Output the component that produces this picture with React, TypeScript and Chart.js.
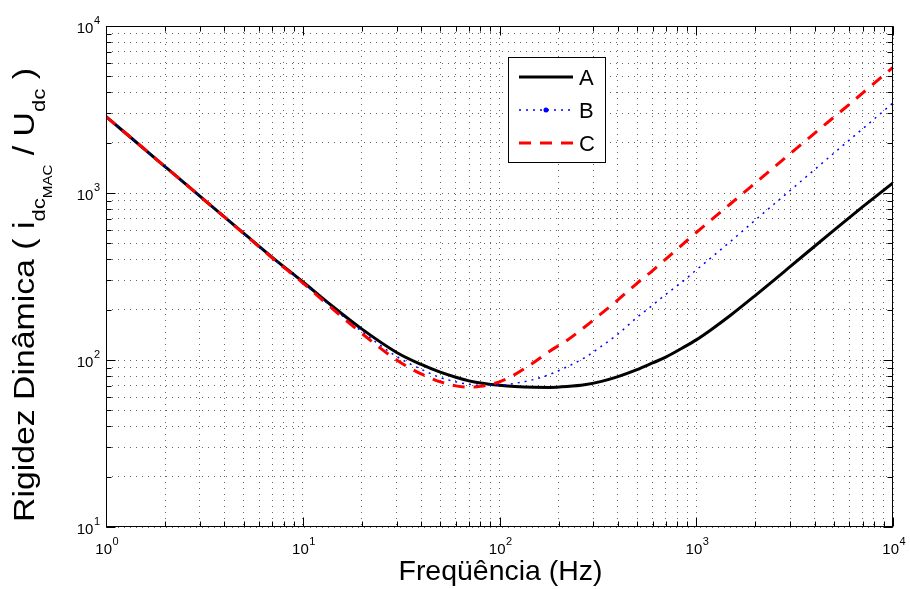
import React, { useEffect, useRef } from "react";
import { Chart, registerables } from "chart.js";

Chart.register(...registerables);

// ---- data ----
const frequencies = [1, 2, 3, 5, 7, 10, 14, 20, 30, 40, 50, 60, 70, 80, 100, 120, 150, 180, 220, 270, 330, 400, 500, 600, 700, 850, 1000, 1200, 1500, 2000, 3000, 5000, 7000, 10000];
const rigidezA = [2870, 1435, 957, 575, 412, 294, 212, 153, 111, 94, 84.5, 78.8, 75, 72.8, 70.5, 69.3, 68.6, 68.5, 69.3, 71, 74.5, 79.5, 87.5, 96, 104, 118, 132, 153, 186, 244, 362, 598, 825, 1150];
const rigidezB = [2870, 1435, 957, 574, 410, 291, 208, 148, 105, 88, 78.5, 74, 71.5, 70.5, 70.6, 72.5, 76.5, 82, 91, 103, 121, 143, 180, 213, 247, 294, 346, 413, 515, 690, 1035, 1730, 2420, 3460];
const rigidezC = [2870, 1435, 957, 573, 408, 290, 205, 144, 100, 82.5, 74, 70, 68.7, 69.5, 74, 82, 97, 113, 131, 157, 190, 229, 288, 343, 402, 490, 580, 695, 865, 1150, 1720, 2840, 3960, 5660];
const seriesLabels = ["A", "B", "C"];
const xRange = [1, 10000];
const yRange = [10, 10000];
const xTitle = "Freqüência (Hz)";
const yTitleParts = ["Rigidez Dinâmica ( i", "dc", "MAC", " / U", "dc", " )"];

const FONT = '"Liberation Sans", Arial, Helvetica, sans-serif';

const isMajor = (v: number) => Math.abs(Math.log10(v) - Math.round(Math.log10(v))) < 1e-9;

function logTicks(min: number, max: number) {
  const t: { value: number }[] = [];
  const e0 = Math.round(Math.log10(min));
  const e1 = Math.round(Math.log10(max));
  for (let e = e0; e < e1; e++) for (let m = 1; m <= 9; m++) t.push({ value: m * Math.pow(10, e) });
  t.push({ value: Math.pow(10, e1) });
  return t;
}

function drawPow(ctx: CanvasRenderingContext2D, exp: string, x: number, y: number, align: "center" | "right", expRaise: number) {
  ctx.font = `15px ${FONT}`;
  const wb = ctx.measureText("10").width;
  ctx.font = `11px ${FONT}`;
  const we = ctx.measureText(exp).width;
  const total = wb + we + 0.5;
  const sx = align === "center" ? x - total / 2 : x - total;
  ctx.textAlign = "left";
  ctx.textBaseline = "alphabetic";
  ctx.font = `15px ${FONT}`;
  ctx.fillText("10", sx, y);
  ctx.font = `11px ${FONT}`;
  ctx.fillText(exp, sx + wb + 0.5, y - expRaise);
}

const matlabAxes = {
  id: "matlabAxes",
  afterDraw(chart: any) {
    const { ctx, chartArea: a, scales } = chart;
    const xs = scales.x;
    const ys = scales.y;
    ctx.save();
    ctx.strokeStyle = "#000";
    ctx.fillStyle = "#000";
    ctx.lineWidth = 1;
    ctx.setLineDash([]);
    const L = Math.round(a.left) + 0.5;
    const R = Math.round(a.right) - 0.5;
    const T = Math.round(a.top) + 0.5;
    const B = Math.round(a.bottom) - 0.5;
    ctx.strokeRect(L, T, R - L, B - T);
    ctx.beginPath();
    xs.ticks.forEach((t: any) => {
      const px = Math.round(xs.getPixelForValue(t.value)) + 0.5;
      const len = isMajor(t.value) ? 9 : 5;
      ctx.moveTo(px, B);
      ctx.lineTo(px, B - len);
      ctx.moveTo(px, T);
      ctx.lineTo(px, T + len);
    });
    ys.ticks.forEach((t: any) => {
      const py = Math.round(ys.getPixelForValue(t.value)) + 0.5;
      const len = isMajor(t.value) ? 9 : 5;
      ctx.moveTo(L, py);
      ctx.lineTo(L + len, py);
      ctx.moveTo(R, py);
      ctx.lineTo(R - len, py);
    });
    ctx.stroke();

    // tick labels
    xs.ticks.forEach((t: any) => {
      if (!isMajor(t.value)) return;
      const px = xs.getPixelForValue(t.value);
      drawPow(ctx, String(Math.round(Math.log10(t.value))), px + 1, a.bottom + 27, "center", 9);
    });
    ys.ticks.forEach((t: any) => {
      if (!isMajor(t.value)) return;
      const py = ys.getPixelForValue(t.value);
      drawPow(ctx, String(Math.round(Math.log10(t.value))), a.left - 6, py + 7, "right", 9);
    });

    // x title
    ctx.save();
    ctx.font = `28px ${FONT}`;
    const wx = ctx.measureText(xTitle).width;
    const sxT = 204 / wx;
    ctx.translate((a.left + a.right) / 2 + 1, a.bottom + 53);
    ctx.scale(sxT, 1);
    ctx.textAlign = "center";
    ctx.textBaseline = "alphabetic";
    ctx.fillText(xTitle, 0, 0);
    ctx.restore();

    // y title (with subscripts)
    const sizes = [29, 19, 13, 29, 19, 29];
    const offs = [0, 11, 18, 0, 11, 0];
    ctx.save();
    let total = 0;
    const widths = yTitleParts.map((s, i) => {
      ctx.font = `${sizes[i]}px ${FONT}`;
      const w = ctx.measureText(s).width;
      total += w;
      return w;
    });
    const sy = 454 / total;
    ctx.translate(34, a.bottom - 5);
    ctx.rotate(-Math.PI / 2);
    ctx.scale(sy, 1);
    ctx.textAlign = "left";
    ctx.textBaseline = "alphabetic";
    let cx = 0;
    yTitleParts.forEach((s, i) => {
      ctx.font = `${sizes[i]}px ${FONT}`;
      ctx.fillText(s, cx, offs[i]);
      cx += widths[i];
    });
    ctx.restore();

    // legend
    const lx = 508.5, ly = 57.5, lw = 97, lh = 105;
    ctx.fillStyle = "#fff";
    ctx.fillRect(lx, ly, lw, lh);
    ctx.strokeStyle = "#000";
    ctx.lineWidth = 1;
    ctx.strokeRect(lx, ly, lw, lh);
    const rows = [77, 110, 143];
    chart.data.datasets.forEach((ds: any, i: number) => {
      const yy = rows[i];
      ctx.save();
      ctx.strokeStyle = ds.borderColor;
      ctx.lineWidth = ds.borderWidth;
      ctx.setLineDash(ds.borderDash || []);
      ctx.beginPath();
      ctx.moveTo(519, yy);
      ctx.lineTo(573, yy);
      ctx.stroke();
      if (i === 1) {
        ctx.fillStyle = ds.borderColor;
        ctx.beginPath();
        ctx.arc(546, yy, 2.5, 0, Math.PI * 2);
        ctx.fill();
      }
      ctx.restore();
      ctx.fillStyle = "#000";
      ctx.font = `22px ${FONT}`;
      ctx.textAlign = "left";
      ctx.textBaseline = "alphabetic";
      ctx.fillText(ds.label, 579, yy + 8);
    });
    ctx.restore();
  },
};

export default function App() {
  const ref = useRef<HTMLCanvasElement | null>(null);
  useEffect(() => {
    if (!ref.current) return;
    const mk = (ys: number[]) => frequencies.map((f, i) => ({ x: f, y: ys[i] }));
    const chart = new Chart(ref.current, {
      type: "line",
      data: {
        datasets: [
          { label: seriesLabels[0], data: mk(rigidezA), borderColor: "#000000", borderWidth: 3, borderDash: [], pointRadius: 0, cubicInterpolationMode: "monotone", order: 3, fill: false },
          { label: seriesLabels[1], data: mk(rigidezB), borderColor: "#0000ff", borderWidth: 1.5, borderDash: [2, 5], pointRadius: 0, cubicInterpolationMode: "monotone", order: 2, fill: false },
          { label: seriesLabels[2], data: mk(rigidezC), borderColor: "#ff0000", borderWidth: 3, borderDash: [12, 9], pointRadius: 0, cubicInterpolationMode: "monotone", order: 1, fill: false },
        ],
      },
      options: {
        responsive: false,
        animation: false,
        devicePixelRatio: 1,
        events: [],
        layout: { padding: { left: 106, right: 17, top: 26, bottom: 62 } },
        plugins: { legend: { display: false }, tooltip: { enabled: false }, title: { display: false } },
        scales: {
          x: {
            type: "logarithmic",
            min: xRange[0],
            max: xRange[1],
            afterBuildTicks: (s: any) => { s.ticks = logTicks(xRange[0], xRange[1]); },
            ticks: { display: false },
            grid: { color: "rgba(0,0,0,0.6)", lineWidth: 1, drawTicks: false },
            border: { display: false, dash: [1, 5] },
            title: { display: false },
          },
          y: {
            type: "logarithmic",
            min: yRange[0],
            max: yRange[1],
            afterBuildTicks: (s: any) => { s.ticks = logTicks(yRange[0], yRange[1]); },
            ticks: { display: false },
            grid: { color: "rgba(0,0,0,0.6)", lineWidth: 1, drawTicks: false },
            border: { display: false, dash: [1, 5] },
            title: { display: false },
          },
        },
      },
      plugins: [matlabAxes],
    } as any);
    return () => chart.destroy();
  }, []);
  return (
    <div style={{ position: "fixed", left: 0, top: 0, width: 910, height: 589, background: "#fff" }}>
      <canvas ref={ref} width={910} height={589} style={{ display: "block" }} />
    </div>
  );
}
